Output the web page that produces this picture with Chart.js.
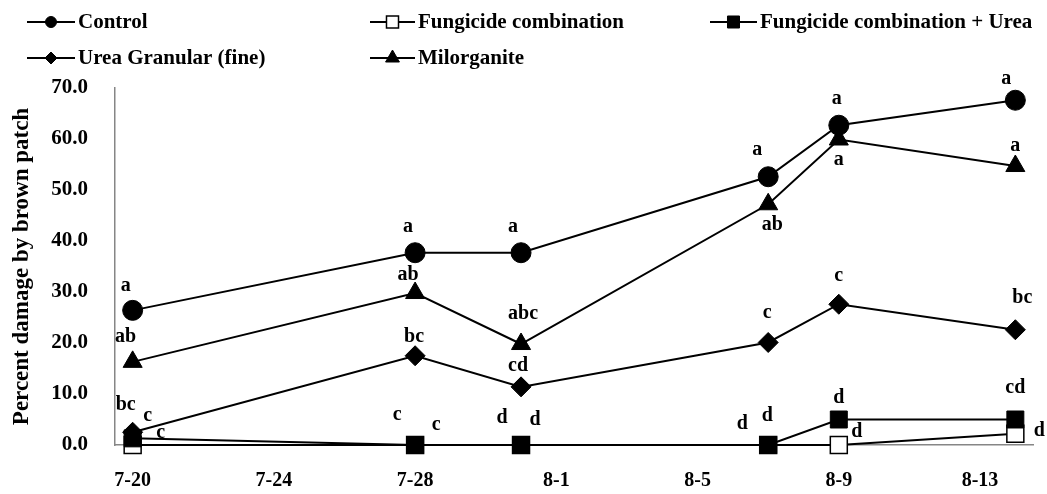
<!DOCTYPE html>
<html>
<head>
<meta charset="utf-8">
<script src="https://cdn.jsdelivr.net/npm/chart.js@4/dist/chart.umd.min.js"></script>
<style>
  body { margin: 0; background: #fff; }
  #wrap { width: 1047px; height: 494px; }
</style>
</head>
<body>
<div id="wrap"><canvas id="chart" width="1047" height="494"></canvas></div>
<script>
// sampling dates (month-day) and axis tick dates
const dates = ['7-20', '7-28', '7-31', '8-7', '8-9', '8-14'];
const tickDates = ['7-20', '7-24', '7-28', '8-1', '8-5', '8-9', '8-13'];
const yTicks = [0, 10, 20, 30, 40, 50, 60, 70];

// percent damage by brown patch
const control = [26.4, 37.7, 37.7, 52.6, 62.7, 67.6];
const fungicide = [0, 0, 0, 0, 0, 2.2];
const fungicideUrea = [1.3, 0, 0, 0, 5.0, 5.0];
const ureaFine = [2.5, 17.5, 11.4, 20.1, 27.6, 22.6];
const milorganite = [16.3, 29.8, 19.8, 47.2, 59.9, 54.7];

// mean separation letters
const controlLetters = ['a', 'a', 'a', 'a', 'a', 'a'];
const fungicideLetters = ['c', 'c', 'd', 'd', 'd', 'd'];
const fungicideUreaLetters = ['c', 'c', 'd', 'd', 'd', 'cd'];
const ureaLetters = ['bc', 'bc', 'cd', 'c', 'c', 'bc'];
const milorganiteLetters = ['ab', 'ab', 'abc', 'ab', 'a', 'a'];

// letter offsets from the marker (px)
const controlOff = [[-7, -25], [-7, -26], [-8, -26], [-11, -27], [-2, -26], [-9, -21]];
const fungicideOff = [[28, -12], [21, -20], [14, -25], [-26, -21], [18, -13], [24, -3]];
const fungicideUreaOff = [[15, -23], [-18, -30], [-19, -27], [-1, -29], [0, -22], [0, -32]];
const ureaOff = [[-7, -27], [-1, -19], [-3, -21], [-1, -30], [0, -28], [7, -32]];
const milorganiteOff = [[-7, -25], [-7, -18], [2, -30], [4, 21], [0, 20], [0, -20]];

const FONT = "'Liberation Serif', 'Times New Roman', serif";

// days after 7-20
function dayOf(md) {
  const [m, d] = md.split('-').map(Number);
  return Math.round((new Date(2000, m - 1, d) - new Date(2000, 6, 20)) / 86400000);
}
function mdOf(day) {
  const dt = new Date(2000, 6, 20 + day);
  return (dt.getMonth() + 1) + '-' + dt.getDate();
}
const days = dates.map(dayOf);
const toXY = arr => arr.map((v, i) => ({ x: days[i], y: v }));

function series(label, values, style, letters, offs, order) {
  return Object.assign({
    label: label,
    data: toXY(values),
    letters: letters,
    letterOffsets: offs,
    order: order,
    borderColor: '#000',
    borderWidth: 2,
    tension: 0,
    clip: false,
    pointBorderColor: '#000',
    pointBorderWidth: 1,
    pointBackgroundColor: '#000'
  }, style);
}

const datasets = [
  series('Control', control, { pointStyle: 'circle', pointRadius: 10, legendR: 5.5 }, controlLetters, controlOff, 0),
  series('Fungicide combination', fungicide, { pointStyle: 'rect', pointRadius: 12, legendR: 8.5, pointBackgroundColor: '#fff', pointBorderWidth: 1.5 }, fungicideLetters, fungicideOff, 4),
  series('Fungicide combination + Urea', fungicideUrea, { pointStyle: 'rect', pointRadius: 12, legendR: 8.5 }, fungicideUreaLetters, fungicideUreaOff, 3),
  series('Urea Granular (fine)', ureaFine, { pointStyle: 'rectRot', pointRadius: 10, legendR: 6 }, ureaLetters, ureaOff, 2),
  series('Milorganite', milorganite, { pointStyle: 'triangle', pointRadius: 11, legendR: 8 }, milorganiteLetters, milorganiteOff, 1)
];

// legend slots: [lineStartX, lineEndX, rowY]
const legendSlots = [[27, 75, 22], [370, 415, 22], [710, 757, 22], [27, 75, 58], [370, 415, 58]];

function marker(ctx, style, r, x, y, fill, lw) {
  ctx.save();
  ctx.beginPath();
  if (style === 'circle') {
    ctx.arc(x, y, r, 0, Math.PI * 2);
  } else if (style === 'rect') {
    const s = r * Math.SQRT1_2;
    ctx.rect(x - s, y - s, 2 * s, 2 * s);
  } else if (style === 'rectRot') {
    ctx.moveTo(x, y - r); ctx.lineTo(x + r, y); ctx.lineTo(x, y + r); ctx.lineTo(x - r, y);
    ctx.closePath();
  } else if (style === 'triangle') {
    ctx.moveTo(x, y - r);
    ctx.lineTo(x + r * Math.sin(Math.PI / 3), y + r / 2);
    ctx.lineTo(x - r * Math.sin(Math.PI / 3), y + r / 2);
    ctx.closePath();
  }
  ctx.fillStyle = fill;
  ctx.fill();
  ctx.lineWidth = lw;
  ctx.strokeStyle = '#000';
  ctx.stroke();
  ctx.restore();
}

const letterPlugin = {
  id: 'letters',
  afterDatasetsDraw(chart) {
    const ctx = chart.ctx;
    ctx.save();
    ctx.font = 'bold 20px ' + FONT;
    ctx.fillStyle = '#000';
    ctx.textAlign = 'center';
    ctx.textBaseline = 'middle';
    chart.data.datasets.forEach((ds, i) => {
      chart.getDatasetMeta(i).data.forEach((pt, j) => {
        const o = ds.letterOffsets[j];
        ctx.fillText(ds.letters[j], pt.x + o[0], pt.y + o[1]);
      });
    });
    ctx.restore();
  }
};

const legendPlugin = {
  id: 'slotLegend',
  afterDraw(chart) {
    const ctx = chart.ctx;
    ctx.save();
    chart.data.datasets.forEach((ds, i) => {
      const [x0, x1, y] = legendSlots[i];
      ctx.beginPath();
      ctx.moveTo(x0, y);
      ctx.lineTo(x1, y);
      ctx.lineWidth = 2;
      ctx.strokeStyle = '#000';
      ctx.stroke();
      marker(ctx, ds.pointStyle, ds.legendR, (x0 + x1) / 2, y, ds.pointBackgroundColor, ds.pointBorderWidth);
      ctx.font = 'bold 21px ' + FONT;
      ctx.fillStyle = '#000';
      ctx.textAlign = 'left';
      ctx.textBaseline = 'middle';
      ctx.fillText(ds.label, x1 + 3, y + 1);
    });
    ctx.restore();
  }
};

new Chart(document.getElementById('chart'), {
  type: 'line',
  data: { datasets: datasets },
  plugins: [letterPlugin, legendPlugin],
  options: {
    responsive: false,
    animation: false,
    events: [],
    layout: { padding: { top: 88, right: 14, left: 0, bottom: 0 } },
    plugins: { legend: { display: false }, tooltip: { enabled: false } },
    scales: {
      x: {
        type: 'linear',
        min: -0.5,
        max: 25.5,
        afterBuildTicks: s => { s.ticks = tickDates.map(d => ({ value: dayOf(d) })); },
        afterFit: s => { s.height = 49; },
        grid: { color: 'rgba(0,0,0,0)', drawTicks: false },
        border: { display: true, color: '#868686', width: 1.5 },
        ticks: {
          callback: v => mdOf(v),
          padding: 24,
          maxRotation: 0,
          autoSkip: false,
          color: '#000',
          font: { family: FONT, size: 20, weight: 'bold' }
        }
      },
      y: {
        min: 0,
        max: 70,
        afterBuildTicks: s => { s.ticks = yTicks.map(v => ({ value: v })); },
        afterFit: s => { s.width = 115; },
        grid: { color: 'rgba(0,0,0,0)', drawTicks: false },
        border: { display: true, color: '#868686', width: 1.5 },
        ticks: {
          callback: v => v.toFixed(1),
          padding: 27,
          color: '#000',
          font: { family: FONT, size: 21, weight: 'bold' }
        },
        title: {
          display: true,
          text: 'Percent damage by brown patch',
          color: '#000',
          padding: { top: 8, bottom: 0 },
          font: { family: FONT, size: 23, weight: 'bold' }
        }
      }
    }
  }
});
</script>
</body>
</html>
